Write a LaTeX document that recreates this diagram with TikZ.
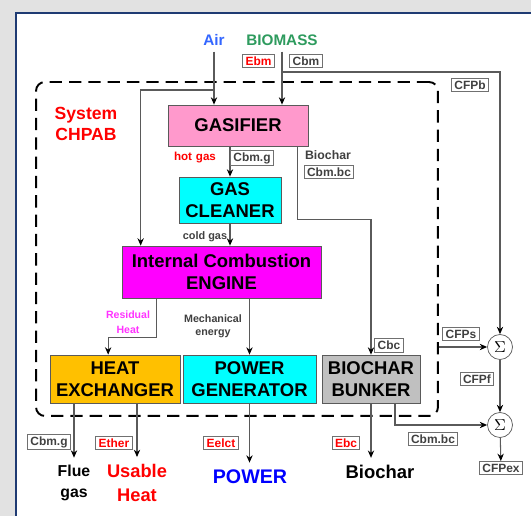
\documentclass[tikz,border=0pt]{standalone}
\usepackage{fontspec}
\setmainfont{Liberation Sans}
\usepackage{xcolor}
\usetikzlibrary{arrows.meta,calc,positioning,shapes.geometric}
\definecolor{PanelNavy}{HTML}{1F3B73}
\definecolor{ShadeGray}{HTML}{E2E2E2}
\definecolor{LineGray}{HTML}{5A5A5A}
\definecolor{TagGray}{HTML}{707070}
\definecolor{NoteGray}{HTML}{404040}
\definecolor{AirBlue}{HTML}{3366FF}
\definecolor{BiomassGreen}{HTML}{2E9B5E}
\definecolor{TagRed}{HTML}{FF0000}
\definecolor{GasPink}{HTML}{FF99CC}
\definecolor{CleanCyan}{HTML}{00FFFF}
\definecolor{EngineMagenta}{HTML}{FF00FF}
\definecolor{HeatGold}{HTML}{FFC000}
\definecolor{BunkerGray}{HTML}{C0C0C0}
\definecolor{PowerBlue}{HTML}{0000FF}
\definecolor{ResidualPink}{HTML}{FF33FF}

\begin{document}
\begin{tikzpicture}[x=0.02cm, y=-0.02cm, font=\bfseries,
  every node/.style={align=center},
  unit/.style={draw=LineGray, inner sep=0pt, font=\fontsize{10.5}{12.5}\selectfont\bfseries},
  tag/.style={draw=TagGray, line width=0.5pt, fill=white, inner xsep=1.6pt, inner ysep=1.3pt,
    text=NoteGray, font=\fontsize{6.8}{8}\selectfont\bfseries},
  note/.style={inner sep=1pt, text=NoteGray, font=\fontsize{6.2}{8}\selectfont\bfseries},
  outlabel/.style={inner xsep=1pt, inner ysep=4pt},
  flow/.style={draw=LineGray, line width=0.6pt, -{Stealth[length=4.2pt,width=3.6pt,color=black]}},
  sumnode/.style={circle, draw=LineGray, fill=white, minimum size=0.5cm, inner sep=0pt,
    font=\fontsize{9}{10}\selectfont}]
  \useasboundingbox (0,0) rectangle (531,516);
  % panel
  \fill[ShadeGray] (0,0) rectangle (531,516);
  \draw[PanelNavy, line width=1.2pt, fill=white] (16,13) rectangle (545,530);

  % system boundary
  \node[draw, line width=1.1pt, dash pattern=on 7pt off 4pt, rounded corners=5pt,
    minimum width=8.04cm, minimum height=6.68cm] (system) at (237,249) {};
  \node[text=TagRed, font=\fontsize{10}{12}\selectfont\bfseries] (syslabel) at (86,124) {System\\CHPAB};

  % units
  \node[unit, fill=GasPink, minimum width=2.8cm, minimum height=0.82cm] (gasifier) at (238,125.5) {GASIFIER};
  \node[unit, fill=CleanCyan, minimum width=2.04cm, minimum height=0.92cm] (cleaner) at (230,200) {GAS\\CLEANER};
  \node[unit, fill=EngineMagenta, minimum width=3.98cm, minimum height=1.04cm] (engine) at (221.5,272) {Internal Combustion\\ENGINE};
  \node[unit, fill=HeatGold, minimum width=2.6cm, minimum height=0.96cm] (heat) at (115,379) {HEAT\\EXCHANGER};
  \node[unit, fill=CleanCyan, minimum width=2.66cm, minimum height=0.96cm] (power) at (249.5,379) {POWER\\GENERATOR};
  \node[unit, fill=BunkerGray, minimum width=1.96cm, minimum height=0.96cm] (bunker) at (371,379) {BIOCHAR\\BUNKER};

  % inputs and sums
  \node[text=AirBlue, font=\fontsize{8.7}{10}\selectfont\bfseries] (air) at (214,40) {Air};
  \node[text=BiomassGreen, font=\fontsize{8.7}{10}\selectfont\bfseries] (biomass) at (282,40) {BIOMASS};
  \node[sumnode] (sum1) at (500,347) {$\Sigma$};
  \node[sumnode] (sum2) at (500,425) {$\Sigma$};
  \node[tag] (cfpex) at (501,468) {CFPex};

  % outputs
  \node[outlabel, font=\fontsize{9}{12}\selectfont\bfseries] (flue) at (74,483) {Flue\\gas};
  \node[outlabel, text=TagRed, font=\fontsize{10.4}{13.5}\selectfont\bfseries] (usable) at (137,483) {Usable\\Heat};
  \node[outlabel, text=PowerBlue, font=\fontsize{11.2}{13}\selectfont\bfseries] (powerout) at (250,477) {POWER};
  \node[outlabel, font=\fontsize{10.5}{12}\selectfont\bfseries] (biocharout) at (380,472) {Biochar};

  % connectors
  \coordinate (airsplit) at (214,90);
  \coordinate (bmsplit) at (282,72);
  \draw[flow] (air) -- (air |- gasifier.north);
  \draw[flow] (biomass) -- (biomass |- gasifier.north);
  \draw[flow] (airsplit) -| ([xshift=0.38cm]engine.north west);
  \draw[flow] (bmsplit) -| (sum1);
  \draw[flow] (gasifier.south -| cleaner) -- (cleaner.north);
  \draw[flow] (cleaner.south) -- (cleaner.south |- engine.north);
  \draw[flow] ([xshift=-0.21cm]gasifier.south east) -- ++(0,73) -| (bunker.north);
  \draw[flow] ([xshift=0.7cm]engine.south west) -- ++(0,39) -| ([xshift=1.17cm]heat.north west);
  \draw[flow] (engine.south -| power.north) -- (power.north);
  \draw[flow] (system.east |- sum1) -- (sum1);
  \draw[flow] (sum1) -- (sum2);
  \draw[flow] ([xshift=0.48cm]bunker.south) |- (sum2);
  \draw[flow] (sum2) -- (cfpex);
  \draw[flow] (heat.south -| flue) -- (flue.north);
  \draw[flow] (heat.south -| usable) -- (usable.north);
  \draw[flow] (power.south) -- (power.south |- powerout.north);
  \draw[flow] (bunker.south) -- (bunker.south |- biocharout.north);

  % tags and notes
  \node[tag, text=TagRed] (ebm) at (258.5,61) {Ebm};
  \node[tag] (cbm) at (306,61) {Cbm};
  \node[tag] (cfpb) at (470,85) {CFPb};
  \node[tag] (cbmg) at (252,158) {Cbm.g};
  \node[tag] (cbmbc) at (329,172) {Cbm.bc};
  \node[tag] (cbc) at (389,345.5) {Cbc};
  \node[tag] (cfps) at (461,334) {CFPs};
  \node[tag] (cfpf) at (477,379) {CFPf};
  \node[tag] (cbmbcout) at (433,439) {Cbm.bc};
  \node[tag] (cbmgout) at (49,442) {Cbm.g};
  \node[tag, text=TagRed] (ether) at (114,443) {Ether};
  \node[tag, text=TagRed] (eelct) at (221,443) {Eelct};
  \node[tag, text=TagRed] (ebc) at (346,443) {Ebc};
  \node[note, text=TagRed, font=\fontsize{6.6}{8}\selectfont\bfseries] (hotgas) at (195,158) {hot\,\,gas};
  \node[note, font=\fontsize{7}{8}\selectfont\bfseries] (biocharnote) at (328,155) {Biochar};
  \node[note] (coldgas) at (205,237) {cold gas};
  \node[note, text=ResidualPink, font=\fontsize{6}{8.5}\selectfont\bfseries] (residual) at (128,322) {Residual\\Heat};
  \node[note, font=\fontsize{6.1}{7.5}\selectfont\bfseries] (mech) at (213,326) {Mechanical\\energy};
\end{tikzpicture}
\end{document}
